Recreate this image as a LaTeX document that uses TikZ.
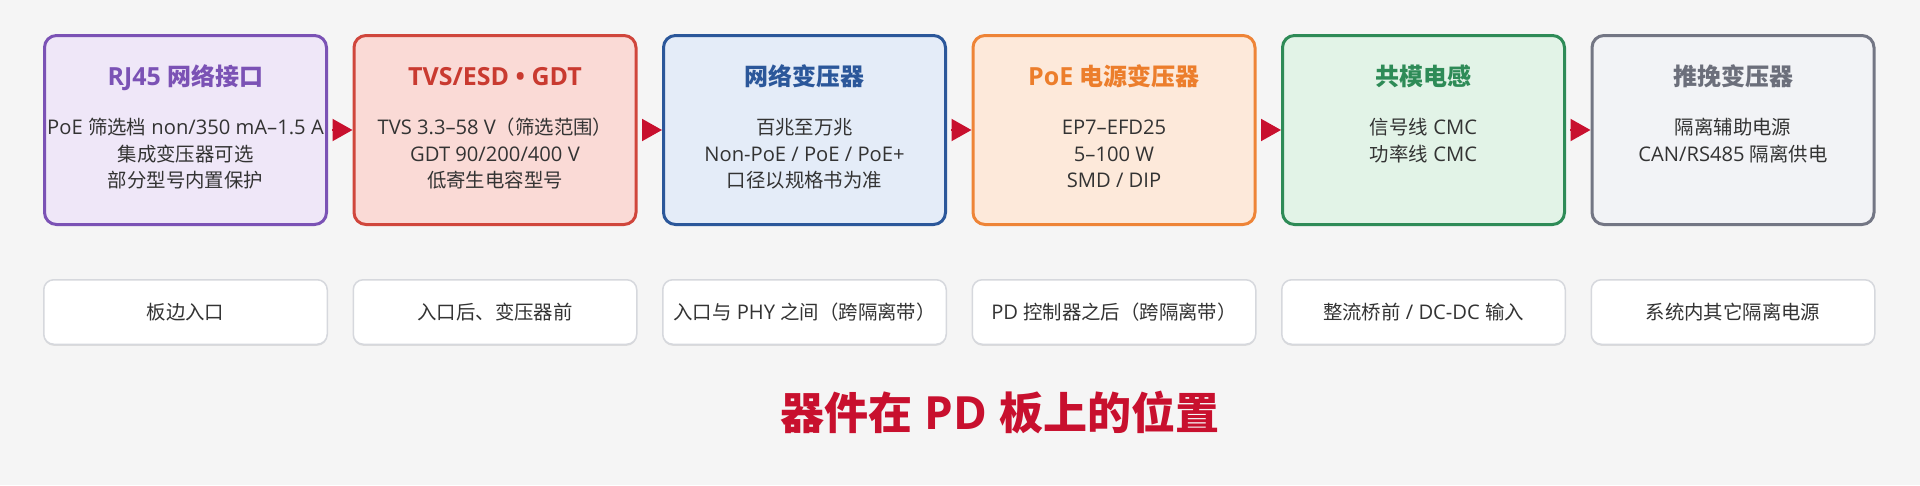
\documentclass[tikz,border=0pt]{standalone}
\usepackage{fontspec}
\setmainfont{Open Sans}[Scale=1.04]
\newfontfamily\cjk{Noto Sans CJK SC}
\newcommand\zh[1]{{\cjk #1}}
\usetikzlibrary{arrows.meta,shadows}
\definecolor{bg}{HTML}{F5F5F5}
\definecolor{txt}{HTML}{333333}
\definecolor{flowred}{HTML}{C8102E}
\definecolor{pb}{HTML}{7B52B5}\definecolor{pf}{HTML}{EFE7F8}
\definecolor{rb}{HTML}{D0463C}\definecolor{rf}{HTML}{FADAD6}\definecolor{rt}{HTML}{C93A30}
\definecolor{bb}{HTML}{2B579A}\definecolor{bf}{HTML}{E4ECF8}
\definecolor{ob}{HTML}{EE8437}\definecolor{of}{HTML}{FDE9DA}\definecolor{ot}{HTML}{EC7E2C}
\definecolor{gb}{HTML}{2E8B57}\definecolor{gf}{HTML}{E2F3E7}
\definecolor{yb}{HTML}{737684}\definecolor{yf}{HTML}{F2F3F6}\definecolor{yt}{HTML}{6C6F7B}
\definecolor{plb}{HTML}{D6D8DD}
\begin{document}
\begin{tikzpicture}[x=1pt,y=-1pt,
  card/.style={rounded corners=12pt, line width=3pt, minimum width=282pt, minimum height=189pt, inner sep=0pt},
  ttl/.style={font=\fontsize{24}{28}\selectfont\bfseries, anchor=base, inner sep=0pt},
  bodyl/.style={font=\fontsize{19.4}{24}\selectfont, text=txt, anchor=base, inner sep=0pt},
  place/.style={draw=plb, fill=white, rounded corners=10pt, line width=1.5pt, minimum width=283.5pt, minimum height=64.5pt, inner sep=0pt, drop shadow={shadow xshift=0pt, shadow yshift=-1.5pt, opacity=0.10, fill=black}},
  placet/.style={font=\fontsize{19.4}{24}\selectfont, text=txt, anchor=base, inner sep=0pt},
  flow/.style={draw=flowred, line width=2pt, -{Triangle[length=20pt,width=22pt]}, shorten <=4pt}
]
\fill[bg] (0,0) rectangle (1920,485);
\useasboundingbox (0,0) rectangle (1920,485);

% cards
\node[card, draw=pb, fill=pf] (b1) at (185.5,130) {};
\node[card, draw=rb, fill=rf] (b2) at (495,130) {};
\node[card, draw=bb, fill=bf] (b3) at (804.5,130) {};
\node[card, draw=ob, fill=of] (b4) at (1114,130) {};
\node[card, draw=gb, fill=gf] (b5) at (1423.5,130) {};
\node[card, draw=yb, fill=yf] (b6) at (1733,130) {};

% titles
\node[ttl, text=pb] (t1) at (185.5,85) {RJ45 \zh{网络接口}};
\node[ttl, text=rt] (t2) at (495,85) {TVS/ESD • GDT};
\node[ttl, text=bb] (t3) at (804.5,85) {\zh{网络变压器}};
\node[ttl, text=ot] (t4) at (1114,85) {PoE \zh{电源变压器}};
\node[ttl, text=gb] (t5) at (1423.5,85) {\zh{共模电感}};
\node[ttl, text=yt] (t6) at (1733,85) {\zh{推挽变压器}};

% body lines
\node[bodyl] (l11) at (185.5,134.4) {PoE \zh{筛选档} non/350 mA–1.5 A};
\node[bodyl] (l12) at (185.5,161.1) {\zh{集成变压器可选}};
\node[bodyl] (l13) at (185.5,187.8) {\zh{部分型号内置保护}};

\node[bodyl] (l21) at (495,134.4) {TVS 3.3–58 V\zh{（筛选范围）}};
\node[bodyl] (l22) at (495,161.1) {GDT 90/200/400 V};
\node[bodyl] (l23) at (495,187.8) {\zh{低寄生电容型号}};

\node[bodyl] (l31) at (804.5,134.4) {\zh{百兆至万兆}};
\node[bodyl] (l32) at (804.5,161.1) {Non-PoE / PoE / PoE+};
\node[bodyl] (l33) at (804.5,187.8) {\zh{口径以规格书为准}};

\node[bodyl] (l41) at (1114,134.4) {EP7–EFD25};
\node[bodyl] (l42) at (1114,161.1) {5–100 W};
\node[bodyl] (l43) at (1114,187.8) {SMD / DIP};

\node[bodyl] (l51) at (1423.5,134.4) {\zh{信号线} CMC};
\node[bodyl] (l52) at (1423.5,161.1) {\zh{功率线} CMC};

\node[bodyl] (l61) at (1733,134.4) {\zh{隔离辅助电源}};
\node[bodyl] (l62) at (1733,161.1) {CAN/RS485 \zh{隔离供电}};

% flow arrows
\draw[flow] (b1) -- (b2);
\draw[flow] (b2) -- (b3);
\draw[flow] (b3) -- (b4);
\draw[flow] (b4) -- (b5);
\draw[flow] (b5) -- (b6);

% placement boxes
\node[place] (p1) at (185.5,312) {};
\node[place] (p2) at (495,312) {};
\node[place] (p3) at (804.5,312) {};
\node[place] (p4) at (1114,312) {};
\node[place] (p5) at (1423.5,312) {};
\node[place] (p6) at (1733,312) {};
\node[placet] (q1) at (185.5,319.5) {\zh{板边入口}};
\node[placet] (q2) at (495,319.5) {\zh{入口后、变压器前}};
\node[placet] (q3) at (804.5,319.5) {\zh{入口与} PHY \zh{之间（跨隔离带）}};
\node[placet] (q4) at (1114,319.5) {PD \zh{控制器之后（跨隔离带）}};
\node[placet] (q5) at (1423.5,319.5) {\zh{整流桥前} / DC-DC \zh{输入}};
\node[placet] (q6) at (1733,319.5) {\zh{系统内其它隔离电源}};

% main title
\node[font=\fontsize{44}{50}\selectfont\bfseries, text=flowred, anchor=base, inner sep=0pt] (main) at (1000,429) {\zh{器件在} PD \zh{板上的位置}};
\end{tikzpicture}
\end{document}
